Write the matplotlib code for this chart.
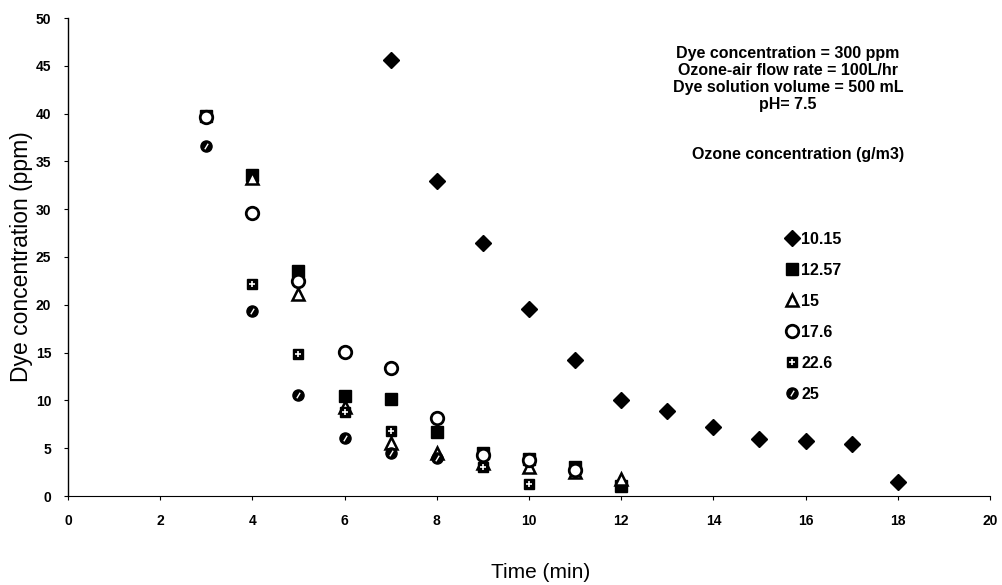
import matplotlib
matplotlib.use("Agg")
import matplotlib.pyplot as plt
from matplotlib.legend_handler import HandlerTuple

plt.rcParams['font.family'] = ['Liberation Sans', 'DejaVu Sans']

# Data (time in min, dye concentration in ppm)
t_1015 = [7, 8, 9, 10, 11, 12, 13, 14, 15, 16, 17, 18]
c_1015 = [45.6, 33.0, 26.5, 19.6, 14.2, 10.0, 8.9, 7.2, 6.0, 5.8, 5.4, 1.5]

t_1257 = [3, 4, 5, 6, 7, 8, 9, 10, 11, 12]
c_1257 = [39.7, 33.6, 23.5, 10.5, 10.1, 6.7, 4.5, 3.9, 3.0, 1.0]

t_15 = [4, 5, 6, 7, 8, 9, 10, 11, 12]
c_15 = [33.3, 21.1, 9.3, 5.5, 4.5, 3.5, 3.0, 2.5, 1.8]

t_176 = [3, 4, 5, 6, 7, 8, 9, 10, 11]
c_176 = [39.6, 29.6, 22.5, 15.1, 13.4, 8.2, 4.3, 3.8, 2.7]

t_226 = [4, 5, 6, 7, 9, 10]
c_226 = [22.2, 14.9, 8.8, 6.8, 3.0, 1.3]

t_25 = [3, 4, 5, 6, 7, 8]
c_25 = [36.6, 19.4, 10.6, 6.1, 4.5, 4.0]

legend_labels = ["10.15", "12.57", "15", "17.6", "22.6", "25"]

fig = plt.figure(figsize=(10.03, 5.85), dpi=100)
ax = fig.add_axes([68/1003, 1 - 496/585, (990-68)/1003, (496-18)/585])

k = 'black'
ms = 8
h1 = ax.plot(t_1015, c_1015, ls='none', marker='D', ms=ms, color=k)[0]
h2 = ax.plot(t_1257, c_1257, ls='none', marker='s', ms=ms+1, color=k)[0]
h3 = ax.plot(t_15, c_15, ls='none', marker='^', ms=ms+1, mfc='white', mec=k, mew=1.8)[0]
h4 = ax.plot(t_176, c_176, ls='none', marker='o', ms=ms+1, mfc='white', mec=k, mew=2)[0]
h5a = ax.plot(t_226, c_226, ls='none', marker='s', ms=ms-1, color=k)[0]
h5b = ax.plot(t_226, c_226, ls='none', marker='+', ms=ms-3, color='white', mew=1.2)[0]
h6a = ax.plot(t_25, c_25, ls='none', marker='o', ms=ms, color=k)[0]
h6b = ax.plot(t_25, c_25, ls='none', marker=[(-0.3, -0.5), (0.3, 0.5)], ms=ms-4,
              color='white', mew=1.0)[0]

ax.set_xlim(0, 20)
ax.set_ylim(0, 50)
ax.set_xticks(range(0, 21, 2))
ax.set_yticks(range(0, 51, 5))
ax.tick_params(axis='both', labelsize=10, length=3, width=0.8, direction='out')
ax.tick_params(axis='y', pad=9)
ax.tick_params(axis='x', pad=10)
for lab in ax.get_xticklabels() + ax.get_yticklabels():
    lab.set_fontweight('bold')
ax.spines['top'].set_visible(False)
ax.spines['right'].set_visible(False)
ax.spines['left'].set_linewidth(1.0)
ax.spines['bottom'].set_linewidth(0.8)
ax.spines['bottom'].set_linestyle((0, (2, 1)))

ax.set_xlabel("Time (min)", fontsize=15)
ax.set_ylabel("Dye concentration (ppm)", fontsize=16.5)
ax.xaxis.set_label_coords((541 - 68) / 922, -(572 - 496) / 478, transform=ax.transAxes)
ax.xaxis.label.set_va('center')
ax.yaxis.set_label_coords(-(68 - 22) / 922, 0.5, transform=ax.transAxes)
ax.yaxis.label.set_va('center')

fig.text(788/1003, 1 - 79/585,
         "Dye concentration = 300 ppm\nOzone-air flow rate = 100L/hr\nDye solution volume = 500 mL\npH= 7.5",
         ha='center', va='center', fontsize=11.5, fontweight='bold', linespacing=1.18)
fig.text(798/1003, 1 - 155/585, "Ozone concentration (g/m3)",
         ha='center', va='center', fontsize=11.5, fontweight='bold')

leg = ax.legend([h1, h2, h3, h4, (h5a, h5b), (h6a, h6b)], legend_labels,
                handler_map={tuple: HandlerTuple(ndivide=1)},
                loc='upper left', bbox_to_anchor=(778/1003, 1 - 224/585),
                bbox_transform=fig.transFigure, frameon=False,
                handlelength=0.8, handletextpad=0.15, labelspacing=1.0,
                prop={'size': 11.5, 'weight': 'bold'}, borderpad=0)

fig.savefig("out.png", dpi=100)
